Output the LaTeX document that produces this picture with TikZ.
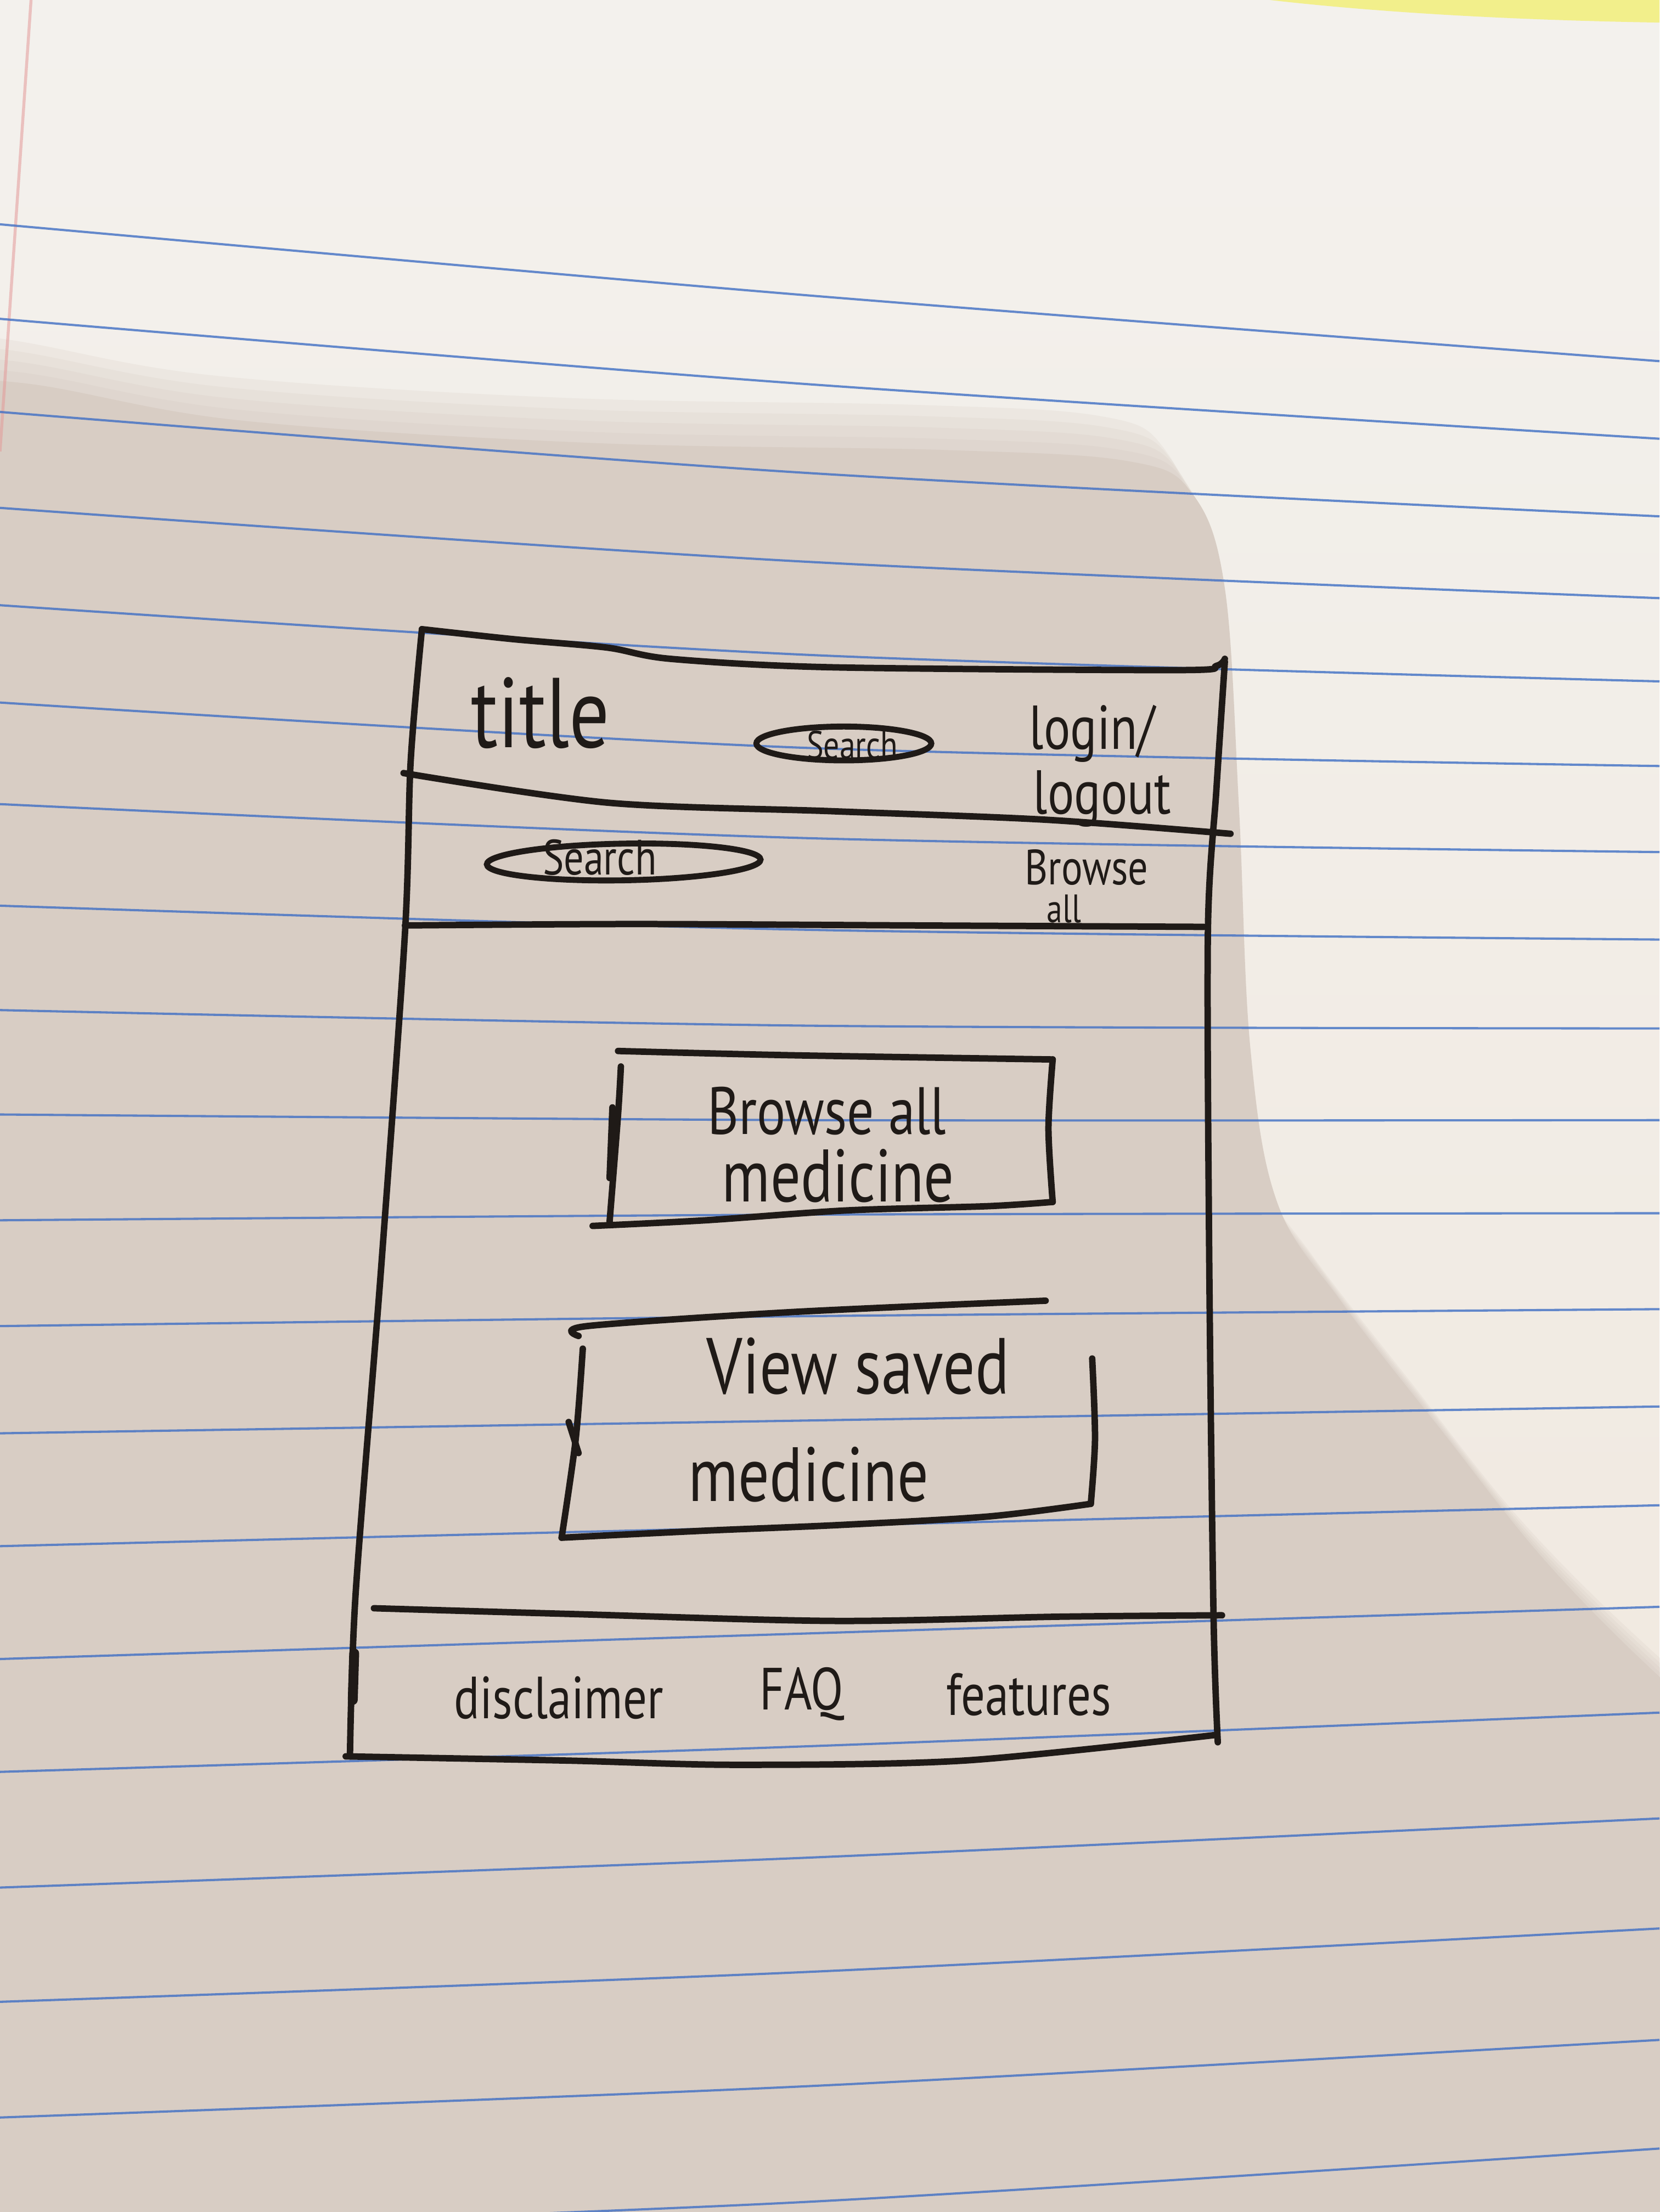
\documentclass[tikz,border=0pt]{standalone}
\usepackage{fontspec}
\usetikzlibrary{shapes.geometric}
\newfontfamily\hand[FakeStretch=0.8]{PT Sans}
\definecolor{inkc}{HTML}{1F1A17}
\definecolor{rulec}{HTML}{3F6FC4}
\definecolor{papertop}{HTML}{F3F1ED}
\definecolor{paperlit}{HTML}{F0E7DD}
\definecolor{shadowc}{HTML}{D8CDC4}
\definecolor{marginc}{HTML}{E39A9A}
\definecolor{highlightc}{HTML}{F2EE3C}
\begin{document}
\begin{tikzpicture}[x=0.1mm,y=-0.1mm,
  ink/.style={draw=inkc, line width=1.3pt, line cap=round, line join=round},
  ruled/.style={draw=rulec, line width=0.45pt, opacity=0.8},
  lbl/.style={text=inkc, inner sep=0pt, anchor=base},
  pill/.style={draw=inkc, line width=1.2pt, ellipse, inner sep=0pt}]

% sheet of paper
\useasboundingbox (0,0) rectangle (1176,1568);
\shade[top color=papertop, bottom color=paperlit] (0,0) rectangle (1176,1568);
\fill[highlightc, opacity=0.55] (900,0) .. controls (970,8) and (1060,14) .. (1176,16) -- (1176,0) -- cycle;

% shadow falling across the sheet, softened at its edge
\foreach \k/\o in {0/0.22,1/0.22,2/0.25,3/0.3,4/1} {
  \fill[shadowc, opacity=\o, shift={(\k*5,\k*8)}]
    plot[smooth, tension=0.6] coordinates {(-100,235) (0,240) (150,266) (400,282) (650,287)
      (780,295) (825,318) (848,385) (858,540) (866,710) (885,820) (930,890) (1000,980)
      (1080,1080) (1176,1175) (1300,1280)}
    -- (1300,1700) -- (-100,1700) -- cycle;
}

% margin line and ruled lines
\draw[marginc, line width=0.6pt, opacity=0.55] (22,0) -- (0,320);
\foreach \a/\m/\b in {159/209/256, 226/272/311, 292/335/366, 360/398/424, 429/464/483,
    498/530/543, 570/594/604, 642/659/666, 716/727/729, 790/794/794, 865/861/860,
    940/933/928, 1016/1007/997, 1096/1082/1067, 1176/1158/1139, 1256/1238/1214,
    1338/1317/1289, 1419/1398/1367, 1501/1479/1446, 1583/1561/1523}
  \draw[ruled] plot[smooth] coordinates {(0,\a) (568,\m) (1176,\b)};

% page frame
\draw[ink] plot[smooth, tension=0.5] coordinates {(299,446) (363,453) (430,459) (475,467)
  (589,473) (835,475) (862,472) (868,467)};
\draw[ink] plot[smooth, tension=0.5] coordinates {(868,469) (862,560) (856,660) (857,900)
  (860,1146) (863,1235)};
\draw[ink] plot[smooth, tension=0.5] coordinates {(299,446) (291,540) (287,661) (270,900)
  (252,1130) (248,1245)};
\draw[ink, line width=2pt] (251,1172) -- (250,1205);
\draw[ink] plot[smooth, tension=0.5] coordinates {(245,1245) (402,1248) (522,1251) (683,1248)
  (860,1230)};

% header and navigation bar separators
\draw[ink] plot[smooth, tension=0.5] coordinates {(286,548) (431,569) (589,575) (740,581)
  (872,591)};
\draw[ink] plot[smooth, tension=0.5] coordinates {(287,656) (450,655) (650,656) (853,657)};

% header
\node[lbl, font=\hand\fontsize{20}{23}\selectfont] (title) at (383,530) {title};
\node[pill, minimum width=12.4mm, minimum height=2.4mm] (searchTop) at (598,527) {};
\node[lbl, font=\hand\fontsize{8}{9}\selectfont] (searchTopText) at (604,538) {Search};
\node[lbl, font=\hand\fontsize{12.5}{14}\selectfont] (login) at (774,531) {login/};
\node[lbl, font=\hand\fontsize{12.5}{14}\selectfont] (logout) at (781,577) {logout};

% navigation bar
\node[pill, minimum width=19.4mm, minimum height=2.6mm, rotate=1] (searchBar) at (442,611) {};
\node[lbl, font=\hand\fontsize{10}{12}\selectfont] (searchBarText) at (425,620) {Search};
\node[lbl, font=\hand\fontsize{10}{12}\selectfont] (browseNav) at (770,627) {Browse};
\node[lbl, font=\hand\fontsize{8}{9}\selectfont] (allNav) at (754,654) {all};

% first button
\draw[ink] plot[smooth, tension=0.5] coordinates {(438,745) (560,748) (746,751)};
\draw[ink] plot[smooth, tension=0.5] coordinates {(746,751) (743,800) (746,852)};
\draw[ink] plot[smooth, tension=0.5] coordinates {(746,852) (700,855) (600,858) (500,865) (420,869)};
\draw[ink] plot[smooth, tension=0.5] coordinates {(440,756) (438,790) (432,866)};
\draw[ink] (434,785) -- (432,835);
\node[lbl, font=\hand\fontsize{13.5}{16}\selectfont] (browseAll) at (586,804) {Browse all};
\node[lbl, font=\hand\fontsize{15}{18}\selectfont] (browseMed) at (594,852) {medicine};

% second button
\draw[ink] plot[smooth, tension=0.5] coordinates {(410,947) (416,940) (562,930) (741,922)};
\draw[ink] plot[smooth, tension=0.5] coordinates {(413,956) (408,1020) (398,1090)};
\draw[ink] (403,1008) -- (410,1030);
\draw[ink] plot[smooth, tension=0.5] coordinates {(774,963) (776,1020) (773,1066)};
\draw[ink] plot[smooth, tension=0.5] coordinates {(773,1066) (700,1075) (595,1081) (500,1085) (398,1090)};
\node[lbl, font=\hand\fontsize{16}{18}\selectfont] (viewSaved) at (608,988) {View saved};
\node[lbl, font=\hand\fontsize{15.5}{18}\selectfont] (savedMed) at (573,1064) {medicine};

% footer
\draw[ink] plot[smooth, tension=0.5] coordinates {(265,1140) (402,1144) (591,1149) (750,1146)
  (866,1145)};
\node[lbl, font=\hand\fontsize{12}{14}\selectfont] (disclaimer) at (396,1218) {disclaimer};
\node[lbl, font=\hand\fontsize{12}{14}\selectfont] (faq) at (568,1212) {FAQ};
\node[lbl, font=\hand\fontsize{12}{14}\selectfont] (features) at (729,1216) {features};
\end{tikzpicture}
\end{document}
